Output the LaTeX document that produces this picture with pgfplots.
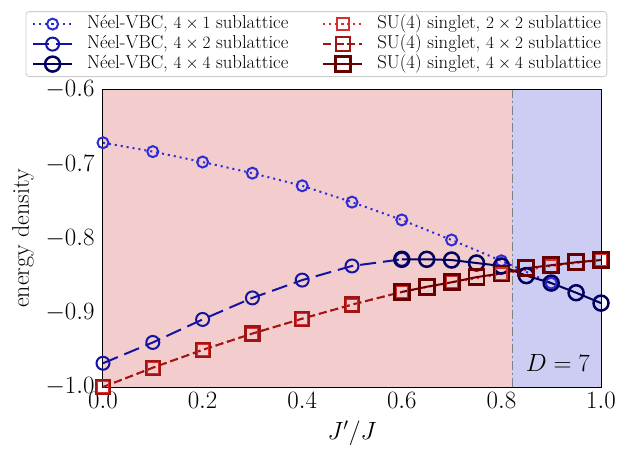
\documentclass[border=0pt]{standalone}
\usepackage{pgfplots}
\pgfplotsset{compat=1.18}
\definecolor{bA}{RGB}{45,45,215}
\definecolor{bB}{RGB}{20,20,160}
\definecolor{bC}{RGB}{0,0,95}
\definecolor{rA}{RGB}{215,45,45}
\definecolor{rB}{RGB}{160,20,20}
\definecolor{rC}{RGB}{105,0,0}
\definecolor{bgred}{RGB}{243,205,205}
\definecolor{bgblue}{RGB}{205,205,243}
\begin{document}
\begin{tikzpicture}
\begin{axis}[
  at={(0pt,0pt)}, anchor=south west,
  scale only axis, width=498pt, height=297pt,
  set layers,
  xmin=0, xmax=1, ymin=-1.0, ymax=-0.6,
  xtick={0,0.2,0.4,0.6,0.8,1.0},
  ytick={-1.0,-0.9,-0.8,-0.7,-0.6},
  xticklabel style={/pgf/number format/.cd,fixed,fixed zerofill,precision=1},
  yticklabel style={/pgf/number format/.cd,fixed,fixed zerofill,precision=1},
  tick label style={font=\fontsize{25}{28}\selectfont},
  label style={font=\fontsize{24}{28}\selectfont},
  tick align=inside, tick pos=left,
  major tick length=6pt,
  every tick/.style={black, line width=1.2pt},
  axis line style={line width=1.6pt},
  grid=major, grid style={color=black!30, line width=0.8pt},
  xlabel={$J'/J$}, ylabel={energy density},
  xlabel style={at={(axis description cs:0.5,-0.155)}, anchor=center},
  ylabel style={at={(axis description cs:-0.1606,0.5)}, anchor=center},
  xticklabel shift=2pt, yticklabel shift=5pt,
  clip=false,
  legend columns=3, transpose legend,
  legend style={at={(axis description cs:0.4287,1)}, anchor=south, yshift=13pt,
    draw=black!20, rounded corners=3pt, fill=white, line width=0.8pt,
    font=\fontsize{18.7}{20}\selectfont, cells={anchor=west},
    nodes={inner sep=0pt, text height=13pt, text depth=4pt},
    inner xsep=6pt, inner ysep=4pt, row sep=3pt,
    /tikz/column 1/.style={column sep=14pt},
    /tikz/column 2/.style={column sep=34pt},
    /tikz/column 3/.style={column sep=14pt}},
  legend image code/.code={\draw[mark repeat=2,mark phase=2,#1] plot coordinates {(0pt,0pt) (19.5pt,0pt) (39pt,0pt)};},
]
\fill[bgred, on layer=axis background] (axis cs:0,-1.0) rectangle (axis cs:0.822,-0.6);
\fill[bgblue, on layer=axis background] (axis cs:0.822,-1.0) rectangle (axis cs:1,-0.6);
\draw[gray, line width=1.4pt, dash pattern=on 9pt off 3pt on 2pt off 3pt] (axis cs:0.822,-1.0) -- (axis cs:0.822,-0.6);
\addplot[color=bA, line width=2pt, dash pattern=on 2pt off 4pt, mark=o, mark size=5.5pt, mark options={solid, line width=2pt}]
 coordinates {(0,-0.671)(0.1,-0.683)(0.2,-0.697)(0.3,-0.712)(0.4,-0.729)(0.5,-0.751)(0.6,-0.775)(0.7,-0.802)(0.8,-0.830)(0.9,-0.860)};
\addlegendentry{N\'eel-VBC, $4\times 1$ sublattice}
\addplot[color=bB, line width=2pt, dash pattern=on 16pt off 7pt, mark=o, mark size=6.5pt, mark options={solid, line width=2pt}]
 coordinates {(0,-0.968)(0.1,-0.940)(0.2,-0.909)(0.3,-0.880)(0.4,-0.856)(0.5,-0.837)(0.6,-0.828)};
\addlegendentry{N\'eel-VBC, $4\times 2$ sublattice}
\addplot[color=bC, line width=2pt, mark=o, mark size=7.5pt, mark options={solid, line width=2.5pt}]
 coordinates {(0.6,-0.828)(0.65,-0.828)(0.7,-0.829)(0.75,-0.833)(0.8,-0.837)(0.85,-0.850)(0.9,-0.860)(0.95,-0.873)(1.0,-0.887)};
\addlegendentry{N\'eel-VBC, $4\times 4$ sublattice}
\addplot[color=rA, line width=2pt, dash pattern=on 2pt off 4pt, mark=square, mark size=6pt, mark options={solid, line width=2pt}]
 coordinates {(0,-1.0)(0.1,-0.974)(0.2,-0.950)(0.3,-0.928)(0.4,-0.908)(0.5,-0.889)(0.6,-0.872)(0.7,-0.859)(0.8,-0.848)(0.9,-0.837)(1.0,-0.829)};
\addlegendentry{SU(4) singlet, $2\times 2$ sublattice}
\addplot[color=rB, line width=2pt, dash pattern=on 8pt off 4pt, mark=square, mark size=7pt, mark options={solid, line width=2.2pt}]
 coordinates {(0,-1.0)(0.1,-0.974)(0.2,-0.950)(0.3,-0.928)(0.4,-0.908)(0.5,-0.889)(0.6,-0.872)};
\addlegendentry{SU(4) singlet, $4\times 2$ sublattice}
\addplot[color=rC, line width=2pt, mark=square, mark size=7.5pt, mark options={solid, line width=2.8pt}]
 coordinates {(0.6,-0.872)(0.65,-0.865)(0.7,-0.859)(0.75,-0.852)(0.8,-0.847)(0.85,-0.840)(0.9,-0.836)(0.95,-0.832)(1.0,-0.829)};
\addlegendentry{SU(4) singlet, $4\times 4$ sublattice}
\node[anchor=south east, inner sep=0pt, font=\fontsize{25}{28}\selectfont] at (rel axis cs:1,0) [xshift=-11pt, yshift=15pt] {$D=7$};
\end{axis}
\pgfresetboundingbox
\path[use as bounding box] (-103pt,-64pt) rectangle (534pt,387pt);
\end{tikzpicture}
\end{document}
